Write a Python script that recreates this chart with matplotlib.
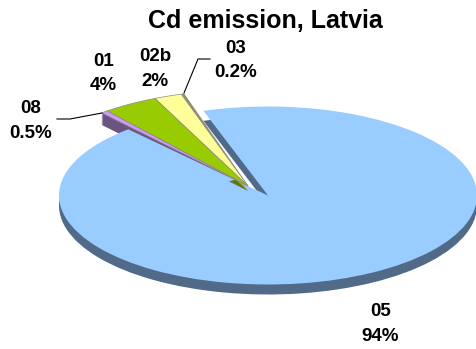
import matplotlib
matplotlib.use("Agg")
import matplotlib.pyplot as plt

plt.rcParams['font.family'] = ['Liberation Sans', 'DejaVu Sans']

title = "Cd emission, Latvia"
main_value = [94]
small_labels = ["03", "02b", "01", "08"]
small_values = [0.2, 2, 4, 0.5]
small_text = ["0.2%", "2%", "4%", "0.5%"]
main_label = "05"
main_text = "94%"

W, H = 477, 349
CX, CY, RX, RY = 268, 195.5, 209, 89
DEPTH = 10


def X(px):
    return (px - CX) / RX


def Y(py):
    return (CY - py) / RY


fig = plt.figure(figsize=(W / 100, H / 100), dpi=100, facecolor="white")
ax = fig.add_axes([0, 0, 1, 1])

total = sum(main_value) + sum(small_values)
small_frac = [v / total for v in small_values]
main_frac = [v / total for v in main_value]
gap = sum(small_frac) * 360
small_start = 106.5
blue_start = 108 + gap
sx, sy = X(248), Y(186)
top = ["#8C8C70", "#FFFF99", "#99CC00", "#CC99FF"]

# main slice wall
ax.pie(main_frac, normalize=False, startangle=blue_start, radius=1,
       center=(0, -DEPTH / RY), colors=["#516A88"])

# walls of the exploded slices, extruded downward, mostly hidden by the main slice top
start_low = small_start + sum(small_frac[:2]) * 360
for d in range(1, 13):
    ax.pie(small_frac[2:], normalize=False, startangle=start_low, radius=1.08,
           center=(sx, sy - d / RY), colors=["#6B5580", "#6B5580"])

# main slice top
ax.pie(main_frac, normalize=False, startangle=blue_start, radius=1,
       center=(0, 0), colors=["#99CCFF"])

# apex walls
ax.pie(small_frac, normalize=False, startangle=small_start, radius=0.14,
       center=(sx, sy - 5 / RY), colors=["#A89A60", "#A89A60", "#5C7A00", "#6B5580"])

# exploded slice tops
ax.pie(small_frac, normalize=False, startangle=small_start, radius=1.08,
       center=(sx, sy), colors=top,
       wedgeprops=dict(edgecolor="#8C8C80", linewidth=0.5))

ax.set_xlim(X(0), X(W))
ax.set_ylim(Y(H), Y(0))
ax.set_aspect("auto")
ax.axis("off")

# leader lines
ax.plot([X(57), X(70), X(102)], [Y(119), Y(119), Y(113)], color="black", lw=0.8)
ax.plot([X(210), X(198), X(184)], [Y(59), Y(59), Y(93)], color="black", lw=0.8)

ax.text(X(265.5), Y(21), title, fontsize=18, fontweight="bold", ha="center", va="center")

pos = {"03": (236, 60.5), "02b": (155, 69), "01": (103.5, 73.5), "08": (31, 121)}
for lab, txt in zip(small_labels, small_text):
    x, y = pos[lab]
    ax.text(X(x), Y(y), f"{lab}\n{txt}", fontsize=13.5, fontweight="bold",
            ha="center", va="center", linespacing=1.6)
ax.text(X(380.5), Y(324), f"{main_label}\n{main_text}", fontsize=13.5, fontweight="bold",
        ha="center", va="center", linespacing=1.6)

fig.savefig("out.png", dpi=100, facecolor="white")
